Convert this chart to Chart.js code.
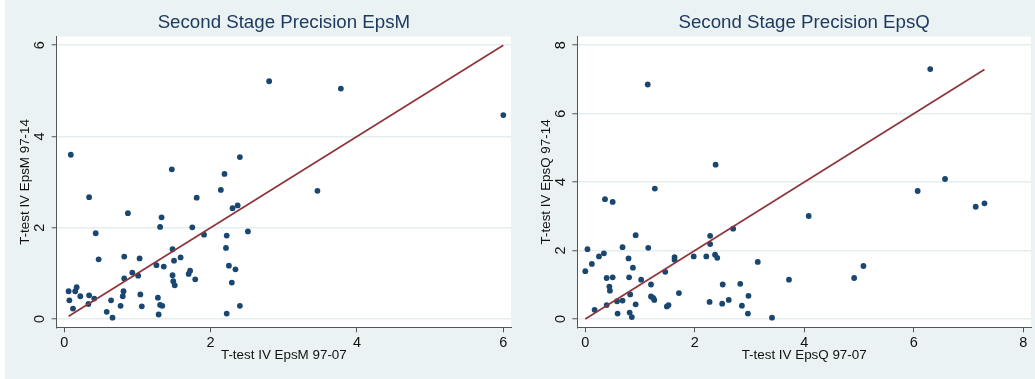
<!DOCTYPE html>
<html>
<head>
<meta charset="utf-8">
<script src="https://cdn.jsdelivr.net/npm/chart.js@4.4.1/dist/chart.umd.min.js"></script>
<style>
    html, body { margin: 0; padding: 0; background: #ffffff; }
    #page { position: absolute; left: 5px; top: 0; width: 1030px; height: 379px; background: #eaf2f3; }
    canvas { position: absolute; top: 0; }
    #chartM { left: 0; }
    #chartQ { left: 515px; }
</style>
</head>
<body>
<div id="page"></div>
<canvas id="chartM" width="515" height="379"></canvas>
<canvas id="chartQ" width="520" height="379"></canvas>
<script>
// EpsM: t-statistics 97-07 (x) against 97-14 (y)
const epsMX = [0.06, 0.07, 0.09, 0.12, 0.15, 0.17, 0.22, 0.33, 0.34, 0.34,
    0.41, 0.43, 0.47, 0.58, 0.64, 0.66, 0.77, 0.80, 0.81, 0.82,
    0.82, 0.87, 0.93, 1.01, 1.03, 1.04, 1.06, 1.26, 1.28, 1.29,
    1.31, 1.31, 1.33, 1.34, 1.36, 1.47, 1.48, 1.48, 1.49, 1.50,
    1.51, 1.59, 1.70, 1.72, 1.75, 1.79, 1.81, 1.91, 2.14, 2.19,
    2.21, 2.22, 2.22, 2.25, 2.29, 2.30, 2.34, 2.37, 2.40, 2.40,
    2.51, 2.80, 3.46, 3.78, 6.00];
const epsMY = [0.61, 0.41, 3.60, 0.23, 0.61, 0.70, 0.50, 0.33, 2.67, 0.52,
    0.45, 1.88, 1.31, 0.16, 0.41, 0.03, 0.29, 0.50, 0.61, 0.89,
    1.37, 2.32, 1.02, 0.95, 1.33, 0.54, 0.28, 1.18, 0.47, 0.10,
    2.02, 0.31, 2.23, 0.29, 1.15, 3.28, 1.53, 0.96, 0.83, 1.28,
    0.74, 1.35, 0.99, 1.06, 2.01, 0.87, 2.66, 1.85, 2.83, 3.18,
    1.56, 1.83, 0.12, 1.17, 0.80, 2.43, 1.09, 2.49, 3.55, 0.29,
    1.92, 5.21, 2.81, 5.05, 4.47];

// EpsQ: t-statistics 97-07 (x) against 97-14 (y)
const epsQX = [0.00, 0.04, 0.12, 0.17, 0.25, 0.34, 0.36, 0.39, 0.39, 0.44,
    0.45, 0.50, 0.50, 0.58, 0.59, 0.68, 0.68, 0.79, 0.80, 0.81,
    0.82, 0.85, 0.87, 0.92, 0.92, 1.02, 1.14, 1.15, 1.20, 1.20,
    1.24, 1.26, 1.27, 1.46, 1.49, 1.52, 1.63, 1.63, 1.71, 1.98,
    2.21, 2.27, 2.28, 2.28, 2.38, 2.37, 2.41, 2.50, 2.51, 2.62,
    2.70, 2.83, 2.86, 2.97, 2.98, 3.15, 3.41, 3.72, 4.08, 4.91,
    5.08, 6.07, 6.30, 6.57, 7.13, 7.29];
const epsQY = [1.40, 2.04, 1.61, 0.27, 1.83, 1.92, 3.50, 1.20, 0.41, 0.95,
    0.83, 3.42, 1.22, 0.52, 0.16, 2.10, 0.54, 1.77, 1.22, 0.19,
    0.72, 0.06, 1.50, 2.45, 0.43, 1.15, 6.85, 2.08, 1.01, 0.66,
    0.62, 0.56, 3.81, 1.38, 0.37, 0.41, 1.81, 1.73, 0.76, 1.83,
    1.83, 0.50, 2.43, 2.19, 4.51, 1.88, 1.79, 0.45, 1.01, 0.56,
    2.64, 1.03, 0.39, 0.16, 0.68, 1.67, 0.04, 1.15, 3.01, 1.20,
    1.55, 3.74, 7.30, 4.09, 3.28, 3.38];

// tick labels
const epsMXTicks = [0, 2, 4, 6];
const epsMYTicks = [0, 2, 4, 6];
const epsQXTicks = [0, 2, 4, 6, 8];
const epsQYTicks = [0, 2, 4, 6, 8];

const FONT = "'Liberation Sans', Arial, sans-serif";
const AXIS_COLOR = '#555555';
const GRID_COLOR = '#e4edf0';
const MARKER_COLOR = '#1a476f';
const LINE_COLOR = '#90353b';

// white plot region behind the grid and marks
const plotBg = {
    id: 'plotBg',
    beforeDraw(chart) {
        const { ctx, chartArea: a } = chart;
        ctx.save();
        ctx.fillStyle = '#ffffff';
        ctx.fillRect(a.left, a.top, a.right - a.left, a.bottom - a.top);
        ctx.restore();
    }
};

function makeChart(id, p) {
    const points = p.xs.map((x, i) => ({ x: x, y: p.ys[i] }));
    const lo = Math.min(...p.xs);
    const hi = Math.max(...p.xs);

    return new Chart(document.getElementById(id), {
        type: 'scatter',
        data: {
            datasets: [{
                // 45 degree reference line across the observed range
                data: [{ x: lo, y: lo }, { x: hi, y: hi }],
                showLine: true,
                borderColor: LINE_COLOR,
                borderWidth: 1.7,
                pointRadius: 0,
                fill: false
            }, {
                data: points,
                pointRadius: 2.9,
                pointBackgroundColor: MARKER_COLOR,
                pointBorderColor: MARKER_COLOR,
                pointBorderWidth: 0
            }]
        },
        options: {
            responsive: false,
            animation: false,
            layout: { padding: { left: 0, right: p.padRight, top: 0, bottom: 0 } },
            plugins: {
                legend: { display: false },
                tooltip: { enabled: false },
                title: {
                    display: true,
                    text: p.title,
                    fullSize: false,
                    color: '#1f3a60',
                    font: { family: FONT, size: 18.7, weight: 'normal' },
                    padding: { top: 11.7, bottom: 2.4 }
                }
            },
            scales: {
                x: {
                    type: 'linear',
                    min: p.xMin,
                    max: p.xMax,
                    afterBuildTicks: s => { s.ticks = p.xTicks.map(v => ({ value: v })); },
                    afterFit: s => { s.height = 51.7; },
                    border: { display: true, color: AXIS_COLOR, width: 1 },
                    grid: { drawOnChartArea: false, drawTicks: true, tickLength: 5, tickColor: AXIS_COLOR, tickWidth: 1 },
                    ticks: { color: '#111111', font: { family: FONT, size: 14.5 }, padding: 2, maxRotation: 0 },
                    title: {
                        display: true,
                        text: p.xTitle,
                        color: '#111111',
                        font: { family: FONT, size: 13.4 },
                        padding: { top: 0, bottom: 16 }
                    }
                },
                y: {
                    type: 'linear',
                    min: p.yMin,
                    max: p.yMax,
                    afterBuildTicks: s => { s.ticks = p.yTicks.map(v => ({ value: v })); },
                    afterFit: s => { s.width = p.yAxisWidth; },
                    border: { display: true, color: AXIS_COLOR, width: 1 },
                    grid: { color: GRID_COLOR, lineWidth: 1.5, drawTicks: true, tickLength: 5, tickColor: AXIS_COLOR, tickWidth: 1 },
                    ticks: { color: '#111111', font: { family: FONT, size: 14.5 }, padding: 7.5, minRotation: 90, maxRotation: 90, crossAlign: 'center' },
                    title: {
                        display: true,
                        text: p.yTitle,
                        color: '#111111',
                        font: { family: FONT, size: 13.4 },
                        padding: { top: p.yTitlePad, bottom: 0 }
                    }
                }
            }
        },
        plugins: [plotBg]
    });
}

document.addEventListener('DOMContentLoaded', function () {
    makeChart('chartM', {
        xs: epsMX, ys: epsMY,
        xTicks: epsMXTicks, yTicks: epsMYTicks,
        xMin: -0.103, xMax: 6.105, yMin: -0.18, yMax: 6.19,
        title: 'Second Stage Precision EpsM',
        xTitle: 'T-test IV EpsM 97-07',
        yTitle: 'T-test IV EpsM 97-14',
        yAxisWidth: 56.7, padRight: 2.3, yTitlePad: 17
    });

    makeChart('chartQ', {
        xs: epsQX, ys: epsQY,
        xTicks: epsQXTicks, yTicks: epsQYTicks,
        xMin: -0.146, xMax: 8.14, yMin: -0.24, yMax: 8.25,
        title: 'Second Stage Precision EpsQ',
        xTitle: 'T-test IV EpsQ 97-07',
        yTitle: 'T-test IV EpsQ 97-14',
        yAxisWidth: 62.3, padRight: 2.3, yTitlePad: 23.6
    });
});
</script>
</body>
</html>
